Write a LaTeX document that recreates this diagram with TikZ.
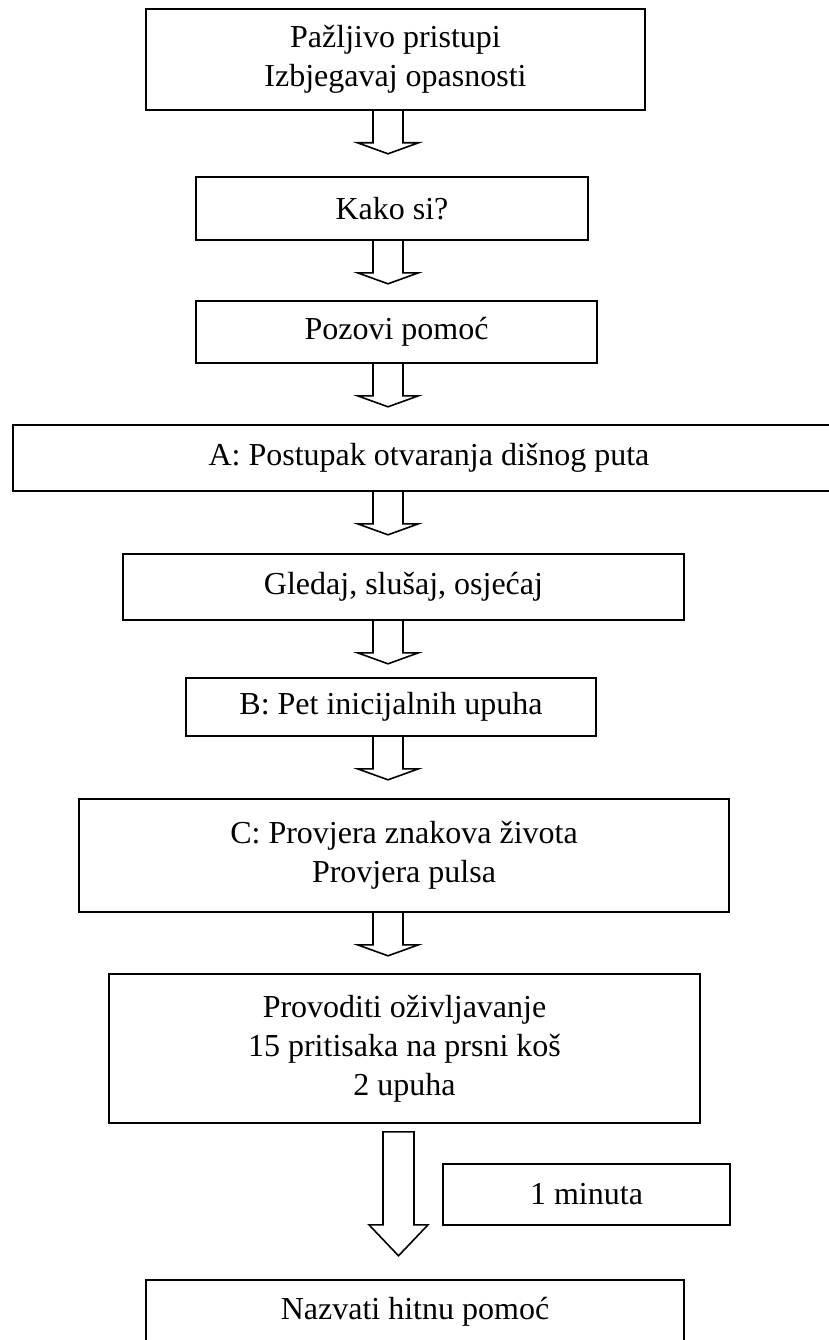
\documentclass[tikz,border=0pt]{standalone}
\usepackage{fontspec}
\setmainfont{Liberation Serif}

\begin{document}
\begin{tikzpicture}[x=1pt,y=-1pt,
  every node/.style={draw,rectangle,line width=1.6pt,inner sep=0pt,align=center,font=\fontsize{32}{39}\selectfont},
  arr/.style={line width=1.6pt,line join=miter}]
\useasboundingbox (0,0) rectangle (829,1340);

\node[minimum width=499pt,minimum height=101pt] (s1) at (395.5,59.5) {Pažljivo pristupi\\Izbjegavaj opasnosti};
\node[minimum width=392pt,minimum height=63pt] (s2) at (392,208.5) {Kako si?};
\node[minimum width=401pt,minimum height=62pt] (s3) at (396.5,332) {Pozovi pomoć};
\node[minimum width=832pt,minimum height=66pt] (s4) at (429,458) {A: Postupak otvaranja dišnog puta};
\node[minimum width=561pt,minimum height=66pt] (s5) at (403.5,587) {Gledaj, slušaj, osjećaj};
\node[minimum width=410pt,minimum height=58pt] (s6) at (391,707) {B: Pet inicijalnih upuha};
\node[minimum width=650pt,minimum height=113pt] (s7) at (404,855.5) {C: Provjera znakova života\\Provjera pulsa};
\node[minimum width=591pt,minimum height=149pt] (s8) at (404.5,1048.5) {Provoditi oživljavanje\\15 pritisaka na prsni koš\\2 upuha};
\node[minimum width=287pt,minimum height=61pt] (min) at (586.5,1194.5) {1 minuta};
\node[minimum width=538pt,minimum height=63pt] (s9) at (415,1311.5) {Nazvati hitnu pomoć};

\coordinate (ax) at (388,0);
\coordinate (bx) at (398.5,0);

\draw[arr] (s1.south -| ax) ++(-15,0) -- ++(0,32) -- ++(-15.5,0) -- ++(30.5,11) -- ++(30.5,-11) -- ++(-15.5,0) -- ++(0,-32);
\draw[arr] (s2.south -| ax) ++(-15,0) -- ++(0,32) -- ++(-15.5,0) -- ++(30.5,11) -- ++(30.5,-11) -- ++(-15.5,0) -- ++(0,-32);
\draw[arr] (s3.south -| ax) ++(-15,0) -- ++(0,32) -- ++(-15.5,0) -- ++(30.5,11) -- ++(30.5,-11) -- ++(-15.5,0) -- ++(0,-32);
\draw[arr] (s4.south -| ax) ++(-15,0) -- ++(0,32) -- ++(-15.5,0) -- ++(30.5,11) -- ++(30.5,-11) -- ++(-15.5,0) -- ++(0,-32);
\draw[arr] (s5.south -| ax) ++(-15,0) -- ++(0,32) -- ++(-15.5,0) -- ++(30.5,11) -- ++(30.5,-11) -- ++(-15.5,0) -- ++(0,-32);
\draw[arr] (s6.south -| ax) ++(-15,0) -- ++(0,32) -- ++(-15.5,0) -- ++(30.5,11) -- ++(30.5,-11) -- ++(-15.5,0) -- ++(0,-32);
\draw[arr] (s7.south -| ax) ++(-15,0) -- ++(0,32) -- ++(-15.5,0) -- ++(30.5,11) -- ++(30.5,-11) -- ++(-15.5,0) -- ++(0,-32);
\draw[arr] (s8.south -| bx) ++(-15.5,8) -- ++(0,93) -- ++(-14,0) -- ++(29.5,31) -- ++(29.5,-31) -- ++(-14,0) -- ++(0,-93) -- cycle;
\end{tikzpicture}
\end{document}
